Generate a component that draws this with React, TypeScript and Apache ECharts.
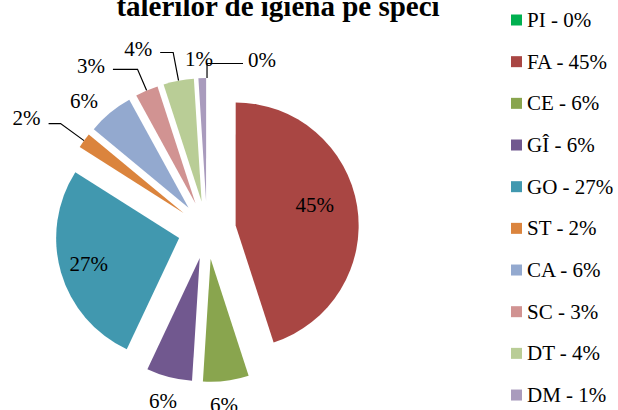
import React, { useEffect, useRef } from 'react';
import * as echarts from 'echarts';

const categories = ['PI', 'FA', 'CE', 'GÎ', 'GO', 'ST', 'CA', 'SC', 'DT', 'DM'];
const percents = [0, 45, 6, 6, 27, 2, 6, 3, 4, 1];
const sliceColors = ['#00B050', '#A94643', '#89A54E', '#71588F', '#4198AF', '#DB843D', '#93A9CF', '#D19392', '#B9CD96', '#A99BBD'];
const titleText = 'talerilor de igiena pe speci';

const FONT = '"Liberation Serif"';

type LabelPlace = { inside?: boolean; pad?: number[]; line?: boolean; length?: number; length2?: number; dist?: number };
const labelPlacement: Record<string, LabelPlace> = {
  PI: { line: true, length: 14.5, length2: 36, dist: 5, pad: [0, 0, 7, 0] },
  FA: { inside: true, pad: [0, 0, 20, 31] },
  CE: { line: false, length: 24, length2: -27 },
  'GÎ': { line: false, length: 24.5, length2: -22 },
  GO: { inside: true, pad: [15, 57, 0, 0] },
  ST: { line: true, length: 29, length2: 12, pad: [0, 0, 12, 0] },
  CA: { line: false, length: 16, length2: -6 },
  SC: { line: true, length: 23, length2: 24.6, pad: [0, 0, 7, 0] },
  DT: { line: true, length: 28.7, length2: 13, pad: [0, 0, 7, 0] },
  DM: { line: false, length: 19, length2: -19.3 },
};

export default function App() {
  const ref = useRef<HTMLDivElement>(null);
  useEffect(() => {
    if (!ref.current) return;
    const chart = echarts.init(ref.current, null, { renderer: 'svg' });
    const data = categories.map((name, i) => {
      const p = labelPlacement[name];
      return {
        name,
        value: percents[i],
        selected: true,
        itemStyle: { color: sliceColors[i] },
        label: p.inside
          ? { position: 'inside', padding: p.pad }
          : { position: 'outside', padding: p.pad ?? 0, distanceToLabelLine: p.dist ?? 8 },
        labelLine: {
          show: !!p.line,
          length: p.length,
          length2: p.length2,
          smooth: false,
          lineStyle: { color: '#000', width: 1.2 },
        },
      };
    });
    chart.setOption({
      animation: false,
      backgroundColor: '#fff',
      textStyle: { fontFamily: FONT },
      graphic: [
        {
          type: 'text',
          x: 278,
          y: 6,
          style: {
            text: titleText,
            font: 'bold 29px "Liberation Serif"',
            fill: '#000',
            textAlign: 'center',
            textVerticalAlign: 'middle',
          },
        },
      ],
      legend: {
        orient: 'vertical',
        left: 511,
        top: 9.5,
        padding: 0,
        itemWidth: 11,
        itemHeight: 11,
        itemGap: 20.67,
        icon: 'rect',
        selectedMode: false,
        textStyle: { fontFamily: FONT, fontSize: 21, color: '#000', lineHeight: 21 },
        formatter: (name: string) => `${name} - ${percents[categories.indexOf(name)]}%`,
        data: categories,
      },
      series: [
        {
          type: 'pie',
          center: [207, 230],
          radius: 123,
          startAngle: 89.99,
          clockwise: true,
          selectedMode: 'multiple',
          selectedOffset: 29,
          avoidLabelOverlap: false,
          emphasis: { disabled: true },
          select: { itemStyle: { borderWidth: 0 } },
          label: {
            color: '#000',
            fontFamily: FONT,
            fontSize: 21,
            lineHeight: 21,
            formatter: (p: any) => `{v|${p.value}%}`,
            rich: {
              v: { color: '#000', fontFamily: FONT, fontSize: 21, lineHeight: 21 },
            },
          },
          data,
        },
      ],
    });
    return () => chart.dispose();
  }, []);
  return <div ref={ref} style={{ position: 'absolute', left: 0, top: 0, width: 618, height: 410 }} />;
}
